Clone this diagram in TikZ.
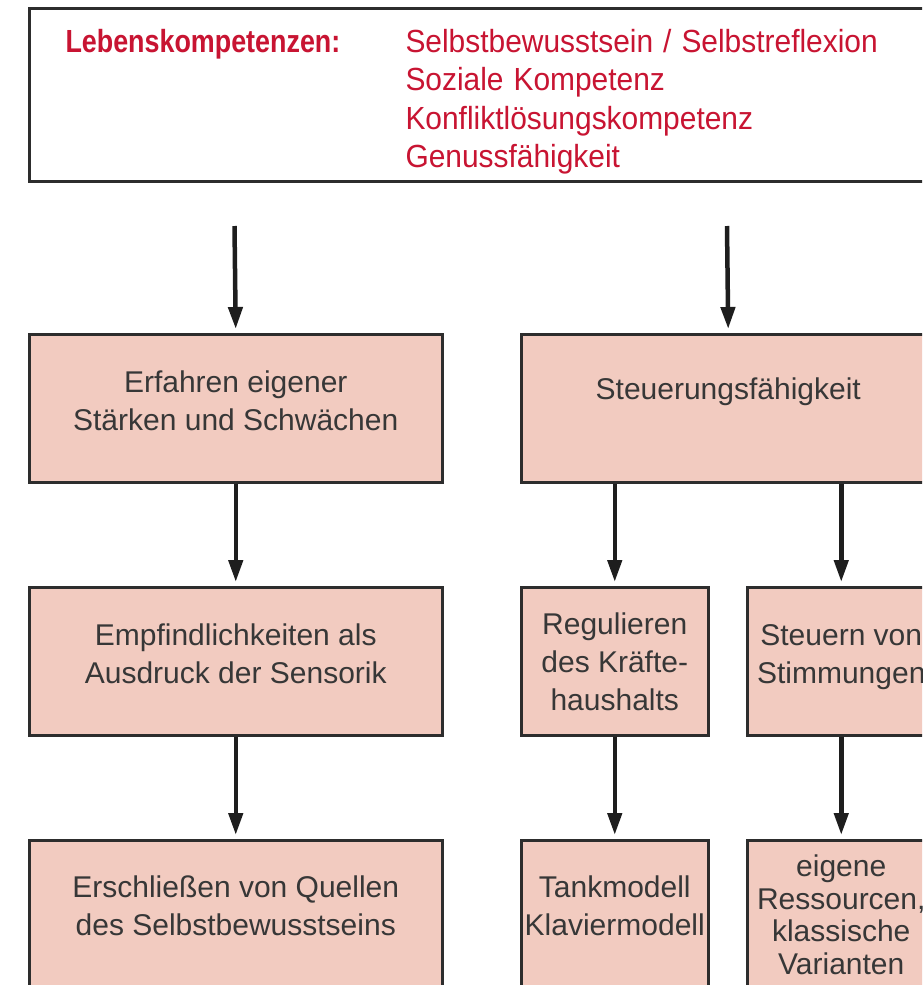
\documentclass[tikz,border=0pt]{standalone}
\usepackage{fontspec}
\setmainfont{Liberation Sans}
\usepackage{graphicx}
\usetikzlibrary{arrows.meta}
\definecolor{boxfill}{RGB}{242,203,192}
\definecolor{boxline}{RGB}{45,45,45}
\definecolor{txtgray}{RGB}{55,55,55}
\definecolor{lkred}{RGB}{200,20,50}
\definecolor{arrowcol}{RGB}{30,30,30}
\newcommand\bxt[2][0pt]{\raisebox{#1}[0pt][0pt]{\begin{tabular}{@{}c@{}}#2\end{tabular}}}
\newcommand\sxr[1]{\scalebox{0.935}[1]{#1}}
\begin{document}
\begin{tikzpicture}[x=1pt,y=-1pt,
  box/.style={draw=boxline, line width=2.5pt, fill=boxfill, text=txtgray, inner sep=0pt,
    anchor=north west, minimum height=148pt, font=\fontsize{30}{38}\selectfont},
  topbox/.style={draw=boxline, line width=3pt, fill=white, text=lkred, inner xsep=36pt, inner ysep=0pt,
    anchor=north west, minimum height=173pt, text width=900pt, align=left, font=\fontsize{32}{38.5}\selectfont},
  arr/.style={draw=arrowcol, line width=4.5pt, -{Triangle[length=22pt,width=14pt]}, shorten >=4pt}]
\useasboundingbox (0,0) rectangle (922,985);
\clip (0,0) rectangle (922,985);

\node[topbox] (top) at (28,7) {\raisebox{-13.5pt}[0pt][0pt]{\begin{tabular}{@{}p{340pt}@{}l@{}}
\scalebox{0.84}[1]{\bfseries Lebenskompetenzen:} & \sxr{Selbstbewusstsein / Selbstreflexion}\\
 & \sxr{Soziale Kompetenz}\\
 & \sxr{Konfliktlösungskompetenz}\\
 & \sxr{Genussfähigkeit}
\end{tabular}}};

\node[box, minimum width=413pt] (l1) at (28,333) {\bxt[-2pt]{Erfahren eigener\\Stärken und Schwächen}};
\node[box, minimum width=413pt] (l2) at (28,586) {\bxt[-1.5pt]{Empfindlichkeiten als\\Ausdruck der Sensorik}};
\node[box, minimum width=413pt] (l3) at (28,839) {\bxt[-0.5pt]{Erschließen von Quellen\\des Selbstbewusstseins}};

\node[box, minimum width=414pt] (r1) at (520,333) {\bxt[10.5pt]{Steuerungsfähigkeit}};
\node[box, minimum width=187pt] (r2a) at (520,586) {\bxt[-9.5pt]{Regulieren\\des Kräfte-\\haushalts}};
\node[box, minimum width=188pt] (r2b) at (746,586) {\bxt[-1.5pt]{Steuern von\\Stimmungen}};
\node[box, minimum width=187pt] (r3a) at (520,839) {\bxt[-0.5pt]{Tankmodell\\Klaviermodell}};
\node[box, minimum width=188pt, font=\fontsize{30}{32.5}\selectfont] (r3b) at (746,839) {\bxt[-11pt]{eigene\\Ressourcen,\\klassische\\Varianten}};

\coordinate (sL) at (234.5,226);
\coordinate (sR) at (727,226);
\draw[arr] (sL) -- (l1.north);
\draw[arr] (sR) -- (r1.north);
\draw[arr] (l1.south) -- (l2.north);
\draw[arr] (l2.south) -- (l3.north);
\draw[arr] (r2a.north |- r1.south) -- (r2a.north);
\draw[arr] (r2b.north |- r1.south) -- (r2b.north);
\draw[arr] (r2a.south) -- (r3a.north);
\draw[arr] (r2b.south) -- (r3b.north);
\end{tikzpicture}
\end{document}
